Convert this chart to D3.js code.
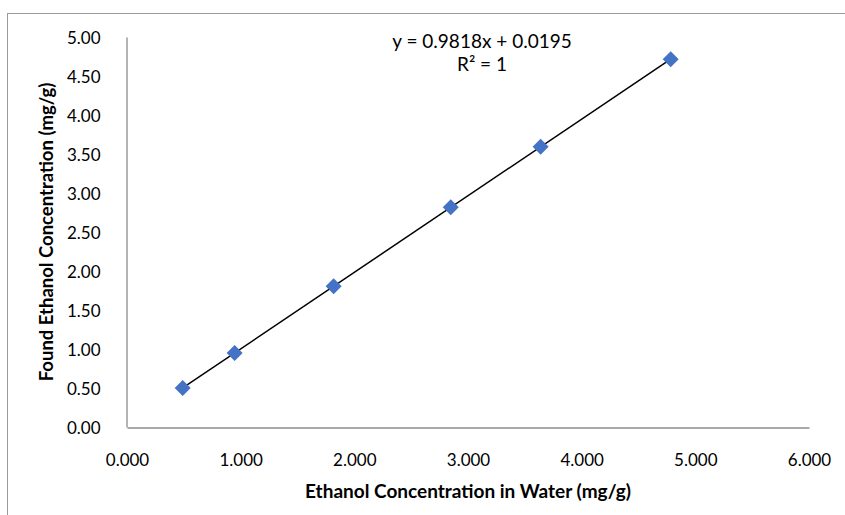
<!DOCTYPE html>
<html>
<head>
<meta charset="utf-8">
<script src="https://cdn.jsdelivr.net/npm/d3@7"></script>
<style>
  html, body { margin: 0; padding: 0; background: #fff; }
  svg { display: block; }
  text { font-family: Lato, "Open Sans", sans-serif; fill: #000; }
</style>
</head>
<body>
<svg id="chart" width="845" height="515"></svg>
<script>
// ---- data ----
const waterConc = [0.490, 0.947, 1.818, 2.848, 3.639, 4.783];   // x: mg/g
const foundConc = [0.501, 0.949, 1.804, 2.816, 3.592, 4.715];   // y: mg/g
const xTicks = [0, 1, 2, 3, 4, 5, 6];
const yTicks = [0, 0.5, 1, 1.5, 2, 2.5, 3, 3.5, 4, 4.5, 5];
const slope = 0.9818;
const intercept = 0.0195;
const equationLines = ["y = 0.9818x + 0.0195", "R² = 1"];
const xTitle = "Ethanol Concentration in Water (mg/g)";
const yTitle = "Found Ethanol Concentration (mg/g)";

// ---- layout ----
const svg = d3.select("#chart");
const plot = { left: 127, right: 809, top: 37, bottom: 427 };

// outer chart frame
svg.append("rect")
  .attr("x", 7.5).attr("y", 13.5)
  .attr("width", 845).attr("height", 520)
  .attr("fill", "none").attr("stroke", "#9a9a9a").attr("stroke-width", 1);

const x = d3.scaleLinear().domain([0, 6]).range([plot.left, plot.right]);
const y = d3.scaleLinear().domain([0, 5]).range([plot.bottom, plot.top]);

// axes
const xAxis = d3.axisBottom(x).tickValues(xTicks).tickSize(0).tickPadding(26)
  .tickFormat(d3.format(".3f"));
const yAxis = d3.axisLeft(y).tickValues(yTicks).tickSize(0).tickPadding(26)
  .tickFormat(d3.format(".2f"));

const gx = svg.append("g").attr("transform", `translate(0,${plot.bottom + 0.5})`).call(xAxis);
const gy = svg.append("g").attr("transform", `translate(${plot.left - 0.5},0)`).call(yAxis);
[gx, gy].forEach(g => {
  g.select(".domain").attr("stroke", "#8c8c8c").attr("stroke-width", 1.3);
  g.selectAll("text").attr("font-size", 17).attr("font-family", "Lato, sans-serif").attr("fill", "#000");
});
gy.selectAll("text").attr("dy", "0.36em");

// trendline (over the data x-range)
const xr = d3.extent(waterConc);
svg.append("line")
  .attr("x1", x(xr[0])).attr("y1", y(slope * xr[0] + intercept))
  .attr("x2", x(xr[1])).attr("y2", y(slope * xr[1] + intercept))
  .attr("stroke", "#000").attr("stroke-width", 1.5);

// markers (diamonds)
const pts = waterConc.map((v, i) => [v, foundConc[i]]);
const r = 8;
svg.append("g").selectAll("path").data(pts).join("path")
  .attr("d", d => {
    const cx = x(d[0]), cy = y(d[1]);
    return `M${cx},${cy - r}L${cx + r},${cy}L${cx},${cy + r}L${cx - r},${cy}Z`;
  })
  .attr("fill", "#4472C4");

// equation label
svg.append("text")
  .attr("x", 482).attr("y", 48)
  .attr("text-anchor", "middle").attr("font-size", 19)
  .selectAll("tspan").data(equationLines).join("tspan")
  .attr("x", 482).attr("dy", (d, i) => i === 0 ? 0 : 23)
  .text(d => d);

// axis titles
svg.append("text")
  .attr("x", 468).attr("y", 498)
  .attr("text-anchor", "middle").attr("font-size", 19).attr("font-weight", "bold")
  .text(xTitle);

svg.append("text")
  .attr("transform", `translate(53,${(plot.top + plot.bottom) / 2}) rotate(-90)`)
  .attr("text-anchor", "middle").attr("font-size", 18.5).attr("font-weight", "bold")
  .text(yTitle);
</script>
</body>
</html>
